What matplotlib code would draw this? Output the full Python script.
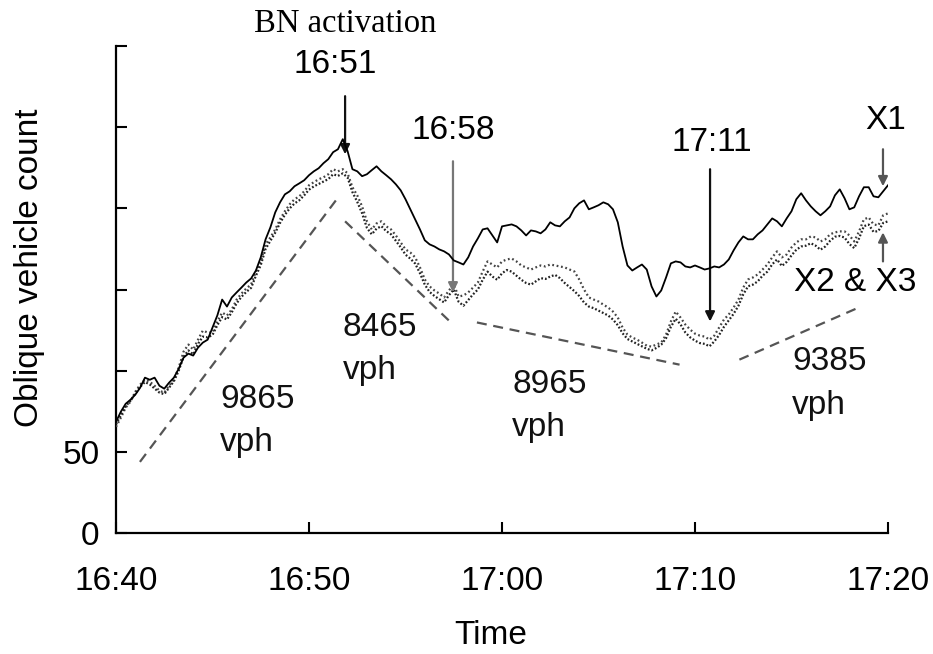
import numpy as np
import matplotlib
matplotlib.use("Agg")
import matplotlib.pyplot as plt

# ---- data (minutes after 16:40, sampled every 0.25 min) ----
step_min = 0.25
x1 = [68.5, 74.7, 79.6, 82.1, 85.2, 89.5, 95.7, 94.4, 95.7, 90.7,
      88.9, 92.6, 95.7, 101.2, 108.0, 110.5, 109.3, 114.2, 117.3, 119.1,
      126.5, 134.0, 143.8, 139.5, 145.1, 148.2, 151.2, 154.3, 156.8, 161.7,
      169.8, 180.9, 188.3, 197.5, 203.7, 208.6, 210.5, 213.6, 215.4, 217.3,
      220.4, 222.8, 224.7, 227.8, 230.3, 234.6, 236.4, 242.6, 235.2, 224.1,
      222.8, 219.8, 221.0, 223.5, 225.9, 222.8, 220.4, 217.9, 214.8, 211.1,
      205.6, 199.4, 193.2, 187.0, 180.3, 177.8, 176.5, 174.7, 173.5, 171.6,
      167.9, 166.7, 165.4, 169.8, 176.5, 181.5, 187.0, 187.7, 183.3, 179.0,
      188.9, 189.5, 190.1, 188.9, 186.4, 183.3, 186.4, 185.8, 184.6, 187.0,
      191.4, 189.5, 188.9, 192.0, 194.4, 200.0, 203.1, 204.9, 199.4, 200.6,
      201.9, 203.7, 202.5, 199.4, 191.4, 176.5, 164.8, 161.7, 163.6, 165.4,
      162.3, 151.9, 145.7, 149.4, 157.4, 166.1, 167.3, 166.7, 164.2, 163.6,
      164.8, 163.6, 162.3, 163.0, 164.2, 163.6, 165.4, 168.5, 174.1, 179.0,
      182.7, 180.9, 180.9, 184.0, 186.4, 190.1, 193.8, 192.0, 188.9, 193.8,
      198.2, 205.6, 209.3, 204.9, 201.2, 198.2, 195.7, 198.2, 201.2, 208.0,
      211.7, 206.2, 199.4, 200.6, 207.4, 213.0, 213.0, 207.4, 206.8, 210.5,
      214.2]
x2 = [65.4, 71.0, 77.2, 80.9, 87.0, 91.4, 94.4, 93.2, 90.7, 87.7,
      86.4, 90.7, 94.4, 101.9, 111.7, 116.1, 113.0, 119.1, 124.7, 123.5,
      123.5, 130.3, 135.8, 134.0, 137.7, 143.8, 147.5, 150.6, 153.1, 161.1,
      167.3, 177.8, 182.1, 187.0, 193.2, 198.2, 202.5, 205.6, 207.4, 210.5,
      214.2, 216.1, 217.9, 219.1, 221.0, 224.1, 222.8, 224.1, 221.6, 213.0,
      208.0, 201.2, 192.0, 187.0, 190.7, 192.0, 188.9, 187.0, 183.3, 179.0,
      174.7, 172.8, 169.8, 163.6, 156.2, 151.9, 149.4, 147.5, 145.1, 149.4,
      153.1, 145.7, 146.3, 148.2, 151.2, 154.3, 161.1, 167.3, 165.4, 163.6,
      167.3, 168.5, 169.1, 167.3, 164.8, 163.6, 162.3, 163.6, 164.8, 164.2,
      165.4, 164.8, 164.2, 163.6, 162.3, 161.1, 156.2, 150.0, 145.1, 143.8,
      142.6, 140.7, 138.9, 136.4, 132.7, 126.5, 122.2, 120.4, 119.1, 117.3,
      115.4, 114.8, 116.1, 117.3, 122.2, 130.3, 136.4, 132.7, 128.4, 125.3,
      122.8, 121.6, 121.0, 119.1, 121.6, 126.5, 131.5, 134.6, 138.9, 143.8,
      151.2, 156.2, 157.4, 159.3, 162.3, 165.4, 169.8, 173.5, 169.8, 171.6,
      175.9, 179.0, 180.9, 180.9, 182.7, 182.1, 179.6, 180.9, 184.0, 185.2,
      185.8, 185.8, 183.3, 179.6, 185.8, 193.2, 194.4, 190.1, 189.5, 195.7,
      196.9]
x3 = [67.0, 72.5, 78.0, 81.5, 86.0, 90.0, 93.0, 91.5, 89.0, 86.5,
      85.5, 89.5, 93.5, 100.0, 108.5, 112.5, 110.0, 116.5, 121.0, 120.5,
      122.0, 128.0, 133.0, 131.5, 136.0, 141.5, 145.5, 148.5, 151.0, 158.5,
      165.0, 175.0, 180.0, 185.0, 191.0, 196.0, 200.0, 203.0, 205.0, 208.0,
      211.5, 213.5, 215.0, 216.5, 218.0, 221.0, 220.0, 221.5, 219.0, 210.0,
      204.0, 197.0, 188.0, 184.0, 187.5, 189.0, 186.0, 184.0, 180.0, 176.0,
      171.5, 169.0, 166.0, 160.0, 153.0, 148.5, 146.0, 144.0, 142.0, 146.5,
      150.0, 142.5, 140.0, 143.5, 147.0, 150.0, 156.0, 161.0, 158.0, 156.0,
      160.0, 162.0, 161.0, 158.5, 156.0, 154.0, 153.0, 155.0, 157.0, 156.5,
      158.0, 159.0, 157.0, 154.0, 151.5, 149.0, 146.0, 142.0, 139.5, 138.5,
      137.0, 135.5, 134.0, 131.5, 128.0, 123.0, 119.5, 118.0, 116.5, 115.0,
      113.5, 112.5, 114.0, 116.0, 120.0, 127.0, 132.0, 128.5, 123.5, 120.5,
      118.5, 117.0, 116.5, 115.0, 118.0, 122.0, 127.0, 131.0, 135.0, 140.0,
      147.0, 152.0, 153.0, 155.0, 158.5, 161.0, 165.5, 168.5, 164.5, 167.0,
      171.0, 174.5, 176.5, 177.0, 178.5, 177.0, 174.5, 176.5, 180.0, 182.5,
      183.0, 182.0, 178.0, 175.5, 181.5, 189.0, 190.0, 185.5, 186.0, 191.0,
      192.0]

# flow-rate trend segments: (start minute, end minute), (start count, end count)
trend_t = [(1.24, 11.5), (11.87, 17.3), (18.7, 29.2), (32.3, 38.6)]
trend_v = [(43.8, 206.6), (192.0, 130.3), (129.7, 103.7), (106.8, 139.5)]
trend_labels = ["9865", "8465", "8965", "9385"]

xtick_vals = [0, 10, 20, 30, 40]
xtick_labels = ["16:40", "16:50", "17:00", "17:10", "17:20"]
ytick_vals = [0, 50, 100, 150, 200, 250, 300]
ytick_labels = ["0", "50", "", "", "", "", ""]

t = np.arange(len(x1)) * step_min

SANS = "Liberation Sans"
FS = 24

fig = plt.figure(figsize=(9.33, 6.54), dpi=100)
ax = fig.add_axes([116 / 933, 1 - 533 / 654, 772 / 933, 487 / 654])

ax.plot(t, x1, color="black", lw=1.3, zorder=4)
ax.plot(t, x2, color="#444444", lw=1.6, ls=(0, (0.8, 1.2)), zorder=3)
ax.plot(t, x3, color="#222222", lw=1.6, ls=(0, (0.8, 0.9)), zorder=3)

for (ta, tb), (va, vb) in zip(trend_t, trend_v):
    ax.plot([ta, tb], [va, vb], color="#555555", lw=1.6, ls=(0, (4.5, 3)))

ax.set_xlim(0, 40)
ax.set_ylim(0, 300)
ax.set_xticks(xtick_vals)
ax.set_xticklabels(xtick_labels, fontsize=FS, family=SANS)
ax.set_yticks(ytick_vals)
ax.set_yticklabels(ytick_labels, fontsize=FS, family=SANS)
ax.tick_params(axis="x", direction="in", length=8, width=1.5, pad=24)
ax.tick_params(axis="y", direction="in", length=8, width=1.5, pad=12)
for s in ["top", "right"]:
    ax.spines[s].set_visible(False)
for s in ["left", "bottom"]:
    ax.spines[s].set_linewidth(1.6)

fig.text(30 / 933, 1 - 268 / 654, "Oblique vehicle count", rotation=90,
         ha="center", va="center", fontsize=FS, family=SANS)
fig.text(491 / 933, 1 - 635 / 654, "Time", ha="center", va="center",
         fontsize=FS, family=SANS)

# trend labels
lab_pos = [(5.39, 77.2, 50.6), (11.76, 121.6, 95.1), (20.52, 86.4, 59.9), (35.03, 100.6, 73.5)]
for lab, (lx, ly1, ly2) in zip(trend_labels, lab_pos):
    ax.text(lx, ly1, lab, fontsize=FS, family=SANS, ha="left", va="baseline", color="#111111")
    ax.text(lx, ly2, "vph", fontsize=FS, family=SANS, ha="left", va="baseline", color="#111111")

# annotations
ax.text(11.87, 308.7, "BN activation", family="Liberation Serif", fontsize=23.5,
        ha="center", va="baseline", clip_on=False)
ax.text(11.35, 283.3, "16:51", fontsize=FS, family=SANS, ha="center", va="baseline", clip_on=False)
ax.text(17.46, 242.6, "16:58", fontsize=FS, family=SANS, ha="center", va="baseline")
ax.text(30.88, 235.2, "17:11", fontsize=FS, family=SANS, ha="center", va="baseline")
ax.text(39.9, 248.8, "X1", fontsize=FS, family=SANS, ha="center", va="baseline", clip_on=False)
ax.text(38.29, 148.8, "X2 & X3", fontsize=FS, family=SANS, ha="center", va="baseline", clip_on=False)

arrows = [((11.87, 269.1), (11.87, 233.3), "#111111"),
          ((17.46, 229.0), (17.46, 148.2), "#777777"),
          ((30.78, 224.1), (30.78, 130.3), "#111111"),
          ((39.74, 236.4), (39.74, 213.6), "#555555"),
          ((39.74, 167.3), (39.74, 185.2), "#555555")]
for start, end, c in arrows:
    ax.annotate("", xy=end, xytext=start,
                arrowprops=dict(arrowstyle="-|>", color=c, lw=1.6,
                                mutation_scale=14, shrinkA=0, shrinkB=0),
                annotation_clip=False)

fig.savefig("out.png", dpi=100)
